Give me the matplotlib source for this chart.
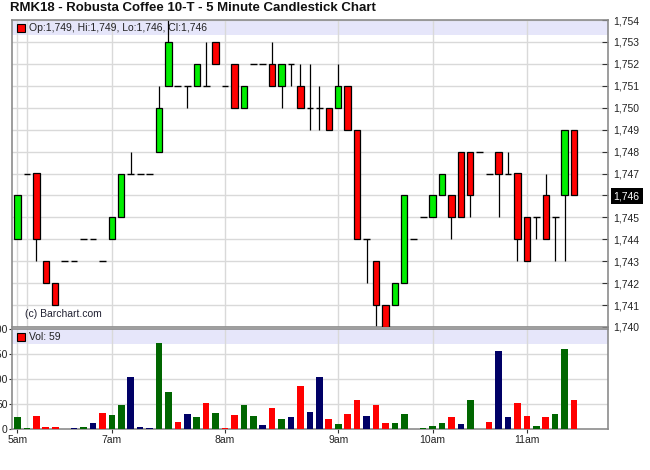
import matplotlib
matplotlib.use("Agg")
import matplotlib.pyplot as plt
from matplotlib.patches import Rectangle

plt.rcParams['font.family'] = ['Liberation Sans', 'DejaVu Sans']

# ---- data (5-minute bars, index based) ----
opens  = [1744,1747,1747,1743,1742,1743,1743,1744,1744,1743,
          1744,1745,1747,1747,1747,1748,1751,1751,1751,1751,
          1751,1753,1751,1752,1750,1752,1752,1752,1751,1752,
          1751,1750,1750,1750,1750,1751,1749,1744,1743,1741,
          1741,1742,1744,1745,1745,1746,1746,1748,1748,1748,
          1747,1748,1747,1747,1745,1745,1746,1745,1746,1749]
highs  = [1746,1747,1747,1743,1742,1743,1743,1744,1744,1743,
          1745,1747,1748,1747,1747,1751,1754,1751,1751,1752,
          1753,1753,1751,1752,1751,1752,1752,1753,1752,1752,
          1752,1752,1751,1750,1752,1751,1749,1744,1743,1741,
          1742,1746,1744,1745,1746,1747,1746,1748,1748,1748,
          1747,1748,1748,1747,1745,1745,1747,1745,1749,1749]
lows   = [1744,1747,1743,1742,1741,1743,1743,1744,1744,1743,
          1744,1745,1747,1747,1747,1748,1751,1751,1750,1751,
          1751,1752,1751,1750,1750,1752,1752,1751,1750,1751,
          1750,1749,1749,1749,1750,1749,1744,1742,1740,1740,
          1741,1742,1744,1745,1745,1746,1744,1745,1745,1748,
          1747,1745,1747,1743,1743,1744,1744,1743,1743,1746]
closes = [1746,1747,1744,1742,1741,1743,1743,1744,1744,1743,
          1745,1747,1747,1747,1747,1750,1753,1751,1751,1752,
          1751,1752,1751,1750,1751,1752,1752,1751,1752,1752,
          1750,1750,1750,1749,1751,1749,1744,1744,1741,1740,
          1742,1746,1744,1745,1746,1747,1745,1745,1746,1748,
          1747,1747,1747,1744,1743,1745,1744,1745,1749,1746]
volumes = [25,2,27,4,4,0,2,4,12,32,
           28,48,104,4,2,172,74,14,30,24,
           52,32,2,28,48,26,8,42,20,24,
           86,34,104,20,11,30,58,26,48,12,
           12,30,0,2,6,12,24,10,58,0,
           14,156,24,52,26,6,24,30,160,59]

time_tick_pos = [0, 10, 22, 34, 44, 54]
time_tick_labels = ['5am', '7am', '8am', '9am', '10am', '11am']
vgrid_pos = [0, 1, 10, 22, 34, 44, 54]
price_ticks = list(range(1740, 1755))
vol_ticks = [0, 50, 100, 150, 200]
title = 'RMK18 - Robusta Coffee 10-T - 5 Minute Candlestick Chart'
legend_txt = 'Op:1,749, Hi:1,749, Lo:1,746, Cl:1,746'
vol_legend_txt = 'Vol: 59'
last_price = 1746

W, H = 650, 470
fig = plt.figure(figsize=(6.5, 4.7), dpi=100)
axp = fig.add_axes([12/W, (H-327)/H, 596/W, 307/H])
axv = fig.add_axes([12/W, (H-429)/H, 596/W, 100/H])

GRID = '#d9d9d9'
SPINE = '#8c8c8c'
xmin, xmax = -0.583, 62.6
n = len(opens)
xs = list(range(n))

for ax in (axp, axv):
    ax.set_xlim(xmin, xmax)
    for s in ax.spines.values():
        s.set_color(SPINE)
        s.set_linewidth(1.2)
    for xg in vgrid_pos:
        ax.axvline(xg, color=GRID, lw=1, zorder=0.5)

# ---- price panel ----
axp.set_ylim(1740, 1754)
for p in price_ticks:
    axp.axhline(p, color=GRID, lw=1, zorder=0.5)
axp.add_patch(Rectangle((0, 1-15/307), 1, 15/307, transform=axp.transAxes,
                        facecolor='#e6e6fa', edgecolor='none', zorder=0.2))

bw = 0.68
axp.vlines(xs, lows, highs, color='black', lw=0.9, zorder=2)
for i in xs:
    o, c = opens[i], closes[i]
    if c == o:
        axp.hlines(o, i - 0.36, i + 0.36, color='black', lw=1.0, zorder=3)
    else:
        col = '#00ee00' if c > o else '#ff0000'
        axp.bar(i, abs(c - o), bottom=min(o, c), width=bw, color=col,
                edgecolor='black', linewidth=0.9, zorder=3)

axp.yaxis.tick_right()
axp.set_yticks(price_ticks, labels=[f'{p:,}' for p in price_ticks])
axp.tick_params(axis='y', direction='in', length=4, color='#333333',
                labelsize=7.5, pad=4, labelcolor='#222222')
axp.set_xticks([])
for lab, p in zip(axp.get_yticklabels(), price_ticks):
    if p == last_price:
        lab.set_color('white')
        lab.set_bbox(dict(facecolor='black', edgecolor='none', pad=2.2))

axp.plot([8.5/596], [1-7.5/307], marker='s', markersize=6, mfc='#ff0000',
         mec='black', mew=0.8, transform=axp.transAxes, zorder=5, clip_on=False)
axp.text(17/596, 1-7.5/307, legend_txt, transform=axp.transAxes,
         fontsize=7.5, va='center', ha='left', color='#222222', zorder=5)
axp.text(13/596, 13/307, '(c) Barchart.com', transform=axp.transAxes,
         fontsize=7.5, va='center', ha='left', color='#222233', zorder=5)

# ---- volume panel ----
axv.set_ylim(0, 200)
for v in vol_ticks[1:-1]:
    axv.axhline(v, color=GRID, lw=1, zorder=0.5)
axv.add_patch(Rectangle((0, 1-15/100), 1, 15/100, transform=axv.transAxes,
                        facecolor='#e6e6fa', edgecolor='none', zorder=0.2))
vcols = []
for i in xs:
    prev = closes[i-1] if i > 0 else opens[i]
    if closes[i] > prev:
        vcols.append('#006600')
    elif closes[i] < prev:
        vcols.append('#ff0000')
    else:
        vcols.append('#000066')
axv.bar(xs, volumes, width=0.7, color=vcols, edgecolor='none', zorder=3)
axv.set_yticks(vol_ticks, labels=[str(v) for v in vol_ticks])
axv.tick_params(axis='y', direction='out', length=2, color='#333333',
                labelsize=7.5, pad=1, labelcolor='#222222')
axv.set_xticks(time_tick_pos, labels=time_tick_labels)
axv.tick_params(axis='x', direction='out', length=3, color='#333333',
                labelsize=7.5, pad=1.5, labelcolor='#222222')
axv.plot([8.5/596], [1-7.5/100], marker='s', markersize=6, mfc='#ff0000',
         mec='black', mew=0.8, transform=axv.transAxes, zorder=5, clip_on=False)
axv.text(17/596, 1-7.5/100, vol_legend_txt, transform=axv.transAxes,
         fontsize=7.5, va='center', ha='left', color='#222222', zorder=5)

fig.text(10/W, 1-8/H, title, fontsize=9.5, fontweight='bold',
         va='center', ha='left', color='#111111')

fig.savefig('out.png', dpi=100)
